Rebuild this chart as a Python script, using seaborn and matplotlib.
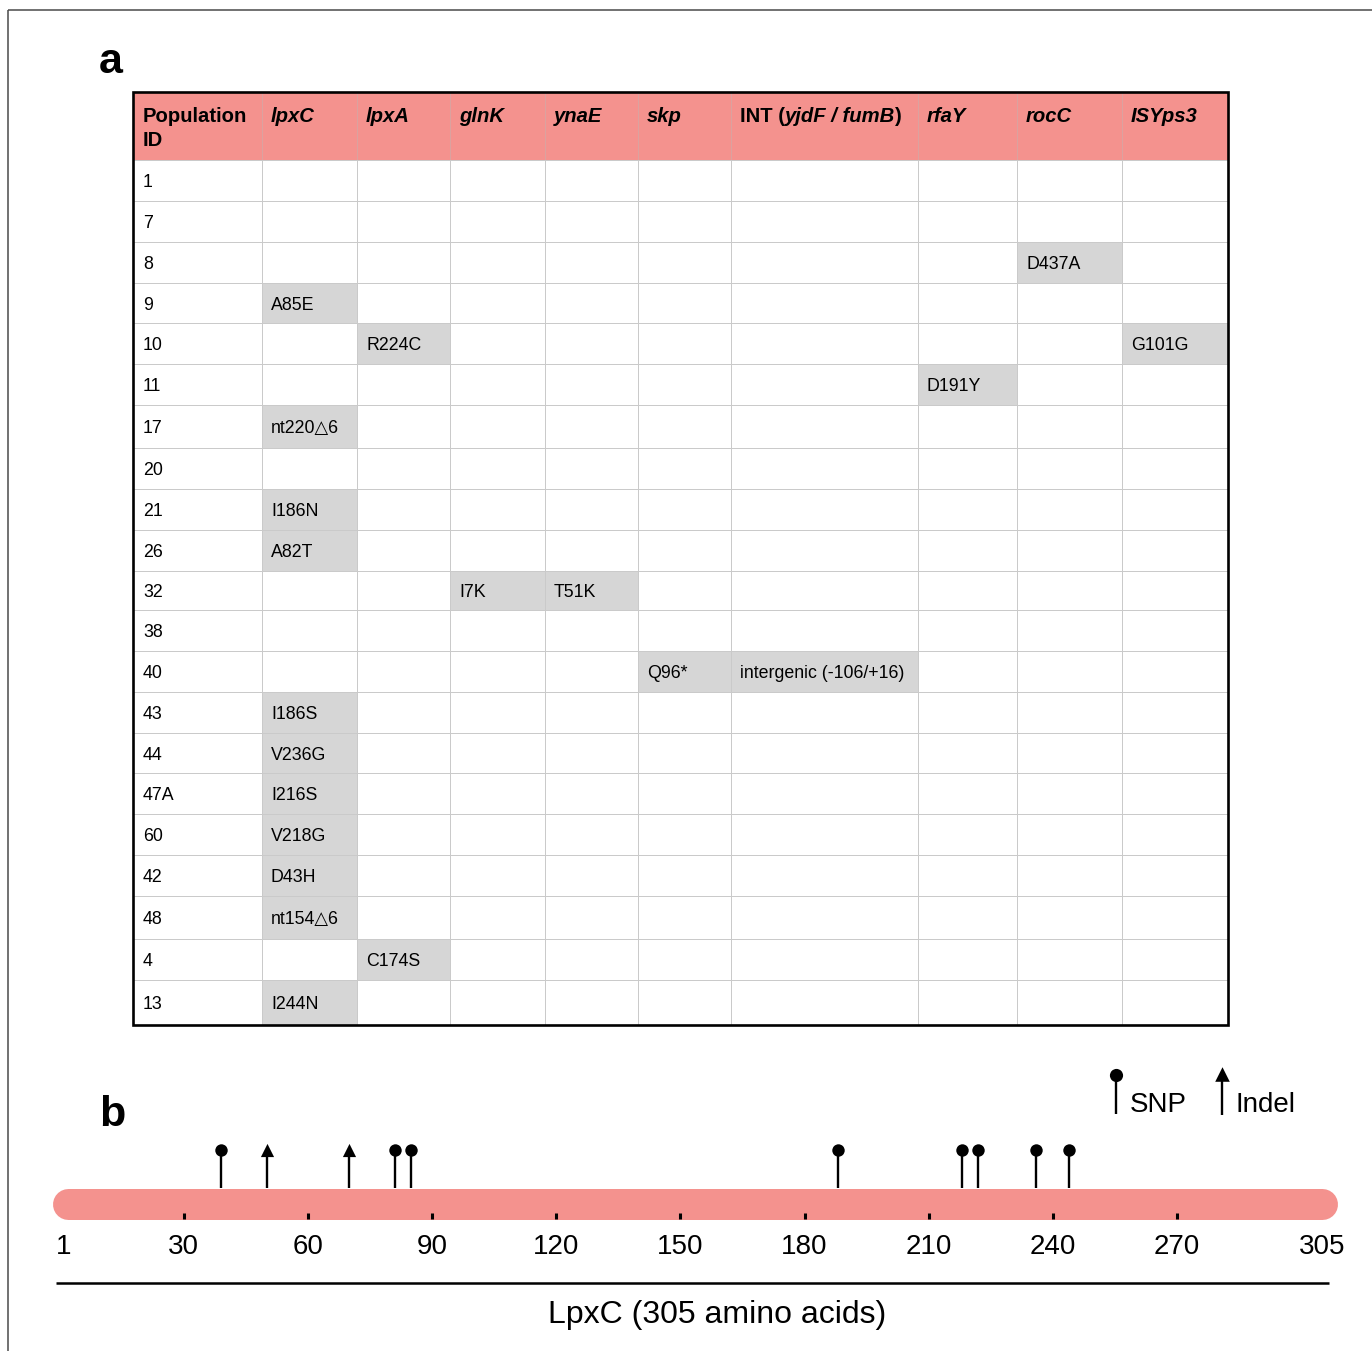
import matplotlib
matplotlib.use("Agg")
import matplotlib.pyplot as plt
from matplotlib.colors import ListedColormap
from matplotlib.patches import Rectangle
import numpy as np
import pandas as pd
import seaborn as sns

# ---------------------------------------------------------------- data
population_ids = ["1", "7", "8", "9", "10", "11", "17", "20", "21", "26", "32",
                  "38", "40", "43", "44", "47A", "60", "42", "48", "4", "13"]

gene_columns = ["lpxC", "lpxA", "glnK", "ynaE", "skp", "INT", "rfaY", "rocC", "ISYps3"]

lpxC_mutations = {"9": "A85E", "17": "nt220\u25b36", "21": "I186N", "26": "A82T",
                  "43": "I186S", "44": "V236G", "47A": "I216S", "60": "V218G",
                  "42": "D43H", "48": "nt154\u25b36", "13": "I244N"}
lpxA_mutations = {"10": "R224C", "4": "C174S"}
glnK_mutations = {"32": "I7K"}
ynaE_mutations = {"32": "T51K"}
skp_mutations = {"40": "Q96*"}
int_mutations = {"40": "intergenic (-106/+16)"}
rfaY_mutations = {"11": "D191Y"}
rocC_mutations = {"8": "D437A"}
isyps3_mutations = {"10": "G101G"}

# LpxC protein map (amino-acid positions)
protein_length = 305
snp_positions = [39, 81, 85, 188, 218, 222, 236, 244]
indel_positions = [50, 70]
axis_ticks = [30, 60, 90, 120, 150, 180, 210, 240, 270]
axis_tick_labels = [1, 30, 60, 90, 120, 150, 180, 210, 240, 270, 305]

# ---------------------------------------------------------------- style
W, H = 1372, 1351
PINK = "#F4928E"
CELL_GRAY = "#d6d6d6"
GRID = "#cacaca"

sns.set_theme(style="white")
plt.rcParams["font.family"] = ["Liberation Sans", "DejaVu Sans"]
plt.rcParams["text.color"] = "black"

fig = plt.figure(figsize=(W / 100, H / 100), dpi=100)
fig.patch.set_facecolor("white")


def px_axes(x0, y0, x1, y1, **kw):
    """Axes placed in figure pixels, with data units equal to pixels (y down)."""
    ax = fig.add_axes([x0 / W, 1 - y1 / H, (x1 - x0) / W, (y1 - y0) / H], **kw)
    ax.set_xlim(x0, x1)
    ax.set_ylim(y1, y0)
    ax.set_axis_off()
    return ax


# overlay for frame, panel letters and legend glyphs
ax_px = px_axes(0, 0, W, H)
ax_px.patch.set_alpha(0)
ax_px.plot([8, W], [10, 10], color="#4a4a4a", lw=1.1, solid_capstyle="butt")
ax_px.plot([8, 8], [10, H], color="#4a4a4a", lw=1.1, solid_capstyle="butt")
ax_px.text(99, 73, "a", fontsize=31, fontweight="bold", ha="left", va="baseline")
ax_px.text(99, 1126, "b", fontsize=31, fontweight="bold", ha="left", va="baseline")

# ---------------------------------------------------------------- panel a: table
table = pd.DataFrame(
    {gene: [muts.get(pid, "") for pid in population_ids]
     for gene, muts in zip(gene_columns,
                           [lpxC_mutations, lpxA_mutations, glnK_mutations,
                            ynaE_mutations, skp_mutations, int_mutations,
                            rfaY_mutations, rocC_mutations, isyps3_mutations])},
    index=population_ids)

col_edges = np.array([133, 262, 357, 450, 545, 638, 731, 918, 1017, 1122, 1228])
row_edges = np.array([160, 201, 242, 283, 323, 364, 405, 448, 489, 530, 571,
                      610, 651, 692, 733, 773, 814, 855, 896, 939, 980, 1025])
header_top = 92

ax_t = px_axes(col_edges[0], header_top, col_edges[-1], row_edges[-1])

filled = np.zeros((len(population_ids), len(gene_columns) + 1))
filled[:, 1:] = (table != "").to_numpy().astype(float)
ax_t.pcolormesh(col_edges, row_edges, filled,
                cmap=ListedColormap(["white", CELL_GRAY]), vmin=0, vmax=1,
                edgecolors=GRID, linewidth=0.7)

# header band
ax_t.add_patch(Rectangle((col_edges[0], header_top), col_edges[-1] - col_edges[0],
                         row_edges[0] - header_top, facecolor=PINK, edgecolor="none"))
ax_t.vlines(col_edges[1:-1], header_top, row_edges[0], color="#dba3a0", lw=0.7)
ax_t.hlines(row_edges[0], col_edges[0], col_edges[-1], color=GRID, lw=0.7)

fig.canvas.draw()
renderer = fig.canvas.get_renderer()

HEAD_FS = 14.6
BODY_FS = 12.8
base1 = 122

ax_t.text(col_edges[0] + 10, base1, "Population", fontsize=HEAD_FS,
          fontweight="bold", va="baseline")
ax_t.text(col_edges[0] + 10, base1 + 24, "ID", fontsize=HEAD_FS,
          fontweight="bold", va="baseline")

for j, gene in enumerate(gene_columns):
    x = col_edges[j + 1] + 9
    if gene == "INT":
        runs = [("INT (", "normal"), ("yjdF / fumB", "italic"), (")", "normal")]
    else:
        runs = [(gene, "italic")]
    for txt, style in runs:
        t = ax_t.text(x, base1, txt, fontsize=HEAD_FS, fontweight="bold",
                      fontstyle=style, va="baseline")
        x += t.get_window_extent(renderer).width

# body text
for i, pid in enumerate(population_ids):
    yb = (row_edges[i] + row_edges[i + 1]) / 2 + 6.5
    ax_t.text(col_edges[0] + 10, yb, pid, fontsize=BODY_FS, va="baseline")
    for j, gene in enumerate(gene_columns):
        val = table.loc[pid, gene]
        if val:
            ax_t.text(col_edges[j + 1] + 9, yb, val, fontsize=BODY_FS, va="baseline")

# outer border
ax_t.add_patch(Rectangle((col_edges[0], header_top), col_edges[-1] - col_edges[0],
                         row_edges[-1] - header_top, facecolor="none",
                         edgecolor="black", lw=1.9, zorder=5, clip_on=False))

# ---------------------------------------------------------------- panel b: LpxC map
x0_px, px_per_aa = 59.6, 4.1385
ax_b = fig.add_axes([0, 0, 1, 1])
ax_b.patch.set_alpha(0)

bar_top, bar_bottom = 1188, 1219
bar_mid = (bar_top + bar_bottom) / 2
head_y = 1149.5

ax_b.plot([2, protein_length], [bar_mid, bar_mid], color=PINK,
          lw=(bar_bottom - bar_top) * 0.72, solid_capstyle="round", zorder=1)
ax_b.vlines(axis_ticks, 1213, bar_bottom, color="black", lw=2.2, zorder=2)

ax_b.vlines(snp_positions + indel_positions, head_y, bar_top, color="black", lw=1.7, zorder=2)
sns.scatterplot(x=snp_positions, y=[head_y] * len(snp_positions), marker="o",
                s=80, color="black", linewidth=0, ax=ax_b, legend=False, zorder=3)
sns.scatterplot(x=indel_positions, y=[head_y] * len(indel_positions), marker="^",
                s=90, color="black", linewidth=0, ax=ax_b, legend=False, zorder=3)

for v in axis_tick_labels:
    ax_b.text(v, 1254, str(v), fontsize=20, ha="center", va="baseline")

ax_b.set_xlim(-x0_px / px_per_aa, (W - x0_px) / px_per_aa)
ax_b.set_ylim(H, 0)
ax_b.set_axis_off()

# axis title with rule
ax_px.plot([56, 1329], [1283, 1283], color="black", lw=1.8, solid_capstyle="butt")
ax_px.text(717, 1323, "LpxC (305 amino acids)", fontsize=23, ha="center", va="baseline")

# legend glyphs
ax_px.vlines([1116], 1075, 1114, color="black", lw=1.7)
ax_px.scatter([1116], [1075], marker="o", s=90, color="black", linewidth=0)
ax_px.text(1130, 1112, "SNP", fontsize=20, va="baseline")
ax_px.vlines([1222], 1074, 1115, color="black", lw=1.7)
ax_px.scatter([1222], [1074], marker="^", s=110, color="black", linewidth=0)
ax_px.text(1236, 1112, "Indel", fontsize=20, va="baseline")

fig.savefig("out.png", dpi=100, facecolor="white")
